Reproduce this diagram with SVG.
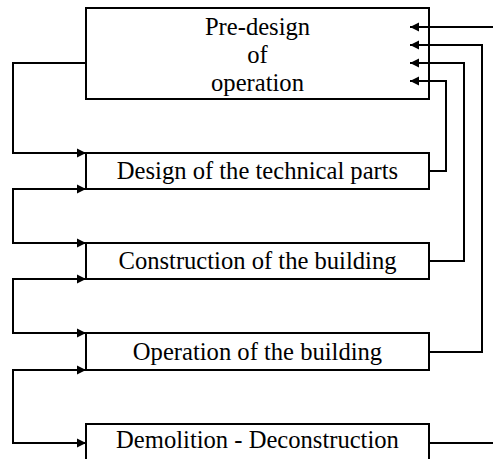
<svg xmlns="http://www.w3.org/2000/svg" width="493" height="459" viewBox="0 0 493 459">
<style>
.box{fill:#fff;stroke:#000;stroke-width:2}
.lbl{font-family:"Liberation Serif","Times New Roman","DejaVu Serif",serif;font-size:24.6px;fill:#000;text-anchor:middle}
.c{fill:none;stroke:#000;stroke-width:2}
</style>
<defs>
<marker id="ah" markerUnits="userSpaceOnUse" markerWidth="10" markerHeight="10" viewBox="0 0 10 10" refX="9" refY="5" orient="auto">
<path d="M0,0.5 L9,5 L0,9.5 Z" fill="#000"/>
</marker>
<marker id="ahs" markerUnits="userSpaceOnUse" markerWidth="10" markerHeight="10" viewBox="0 0 10 10" refX="9" refY="5" orient="auto-start-reverse">
<path d="M0,0.5 L9,5 L0,9.5 Z" fill="#000"/>
</marker>
</defs>
<g id="n1">
<rect class="box" x="86" y="8" width="343" height="91"/>
<text class="lbl" x="257.5" y="35">Pre-design</text>
<text class="lbl" x="257.5" y="62.7">of</text>
<text class="lbl" x="257.5" y="90.5">operation</text>
</g>
<g id="n2">
<rect class="box" x="86" y="153" width="343" height="36"/>
<text class="lbl" x="257.5" y="179.3">Design of the technical parts</text>
</g>
<g id="n3">
<rect class="box" x="86" y="243" width="343" height="36"/>
<text class="lbl" x="257.5" y="269.3">Construction of the building</text>
</g>
<g id="n4">
<rect class="box" x="86" y="333" width="343" height="37"/>
<text class="lbl" x="257.5" y="360">Operation of the building</text>
</g>
<g id="n5">
<rect class="box" x="86" y="424" width="343" height="45"/>
<text class="lbl" x="257.5" y="448.3">Demolition - Deconstruction</text>
</g>
<g id="connectors">
<path class="c" d="M86,63 H13 V153 H86" marker-end="url(#ah)"/>
<path class="c" d="M86,189 H13 V243 H86" marker-start="url(#ahs)" marker-end="url(#ah)"/>
<path class="c" d="M86,279 H13 V333 H86" marker-start="url(#ahs)" marker-end="url(#ah)"/>
<path class="c" d="M86,370 H13 V443 H86" marker-start="url(#ahs)" marker-end="url(#ah)"/>
<path class="c" d="M429,171 H446 V81 H410" marker-end="url(#ah)"/>
<path class="c" d="M429,261 H464 V63 H410" marker-end="url(#ah)"/>
<path class="c" d="M429,352 H482 V45 H410" marker-end="url(#ah)"/>
<path class="c" d="M494,27 H410" marker-end="url(#ah)"/>
<path class="c" d="M429,443 H494"/>
</g>
</svg>
